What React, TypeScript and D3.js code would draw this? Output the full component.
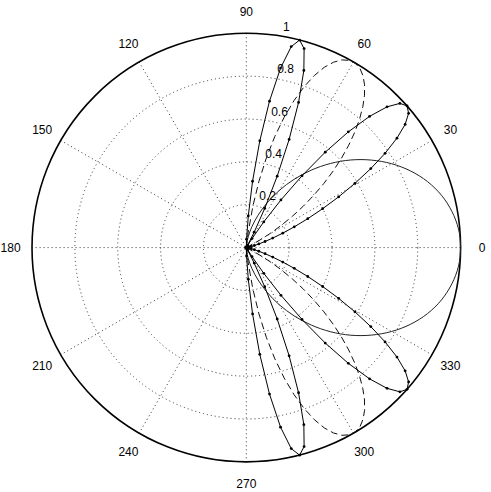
import React, { useEffect, useRef } from 'react';
import * as d3 from 'd3';

// Beam patterns: angle in degrees (0 = right, counter-clockwise),
// magnitude 0..1. Every pattern is symmetric about the 0-180 axis, so the lower
// lobes are the same samples at negative angles.
const beam75Angles = [59.4, 61.2, 63, 64.8, 66.6, 68.4, 70.2, 72, 73.8, 75.6, 77.4, 79.2, 81, 82.8, 84.6, 86.4, 88.2, 90];
const beam75Values = [0, 0.013, 0.081, 0.202, 0.363, 0.543, 0.72, 0.869, 0.967, 1.0, 0.961, 0.853, 0.692, 0.502, 0.311, 0.148, 0.039, 0];

const beam60Angles = [25.2, 27, 28.8, 30.6, 32.4, 34.2, 36, 37.8, 39.6, 41.4, 43.2, 45, 46.8, 48.6, 50.4, 52.2, 54, 55.8, 57.6, 59.4, 61.2, 63, 64.8, 66.6, 68.4, 70.2, 72, 73.8, 75.6, 77.4, 79.2, 81, 82.8, 84.6];
const beam60Values = [0, 0.007, 0.066, 0.127, 0.192, 0.259, 0.329, 0.399, 0.47, 0.54, 0.609, 0.676, 0.74, 0.799, 0.853, 0.9, 0.939, 0.969, 0.99, 0.999, 0.997, 0.983, 0.956, 0.917, 0.864, 0.799, 0.722, 0.634, 0.536, 0.429, 0.315, 0.195, 0.072, 0];

const beam41Angles = [0, 1.8, 3.6, 5.4, 7.2, 9, 10.8, 12.6, 14.4, 16.2, 18, 19.8, 21.6, 23.4, 25.2, 27, 28.8, 30.6, 32.4, 34.2, 36, 37.8, 39.6, 41.4, 43.2, 45, 46.8, 48.6, 50.4, 52.2, 54, 55.8, 57.6, 59.4, 61.2];
const beam41Values = [0, 0, 0, 0.001, 0.002, 0.006, 0.012, 0.023, 0.039, 0.061, 0.092, 0.131, 0.183, 0.244, 0.317, 0.4, 0.492, 0.589, 0.688, 0.783, 0.869, 0.938, 0.983, 1.0, 0.983, 0.929, 0.84, 0.72, 0.578, 0.424, 0.275, 0.145, 0.05, 0.003, 0];

const elementAngles = [0, 5, 10, 15, 20, 25, 30, 35, 40, 45, 50, 55, 60, 65, 70, 75, 80, 85, 90];
const elementValues = [1, 0.994, 0.974, 0.943, 0.9, 0.846, 0.783, 0.712, 0.636, 0.555, 0.472, 0.389, 0.308, 0.231, 0.161, 0.101, 0.051, 0.016, 0];

const angleTicks = [0, 30, 60, 90, 120, 150, 180, 210, 240, 270, 300, 330];
const spokeAngles = [0, 30, 60, 90, 120, 150];
const radiusTicks = [0.2, 0.4, 0.6, 0.8, 1];

const PolarPattern = () => {
  const svgRef = useRef(null);

  useEffect(() => {
    const svg = d3.select(svgRef.current);
    svg.selectAll('*').remove();

    const cx = 246.3;
    const cy = 247.6;
    const R = 214.3;
    const font = "'Liberation Sans', Arial, Helvetica, sans-serif";

    const r = d3.scaleLinear().domain([0, 1]).range([0, R]);
    const rad = d => (d * Math.PI) / 180;
    const px = (a, v) => r(v) * Math.cos(rad(a));
    const py = (a, v) => -r(v) * Math.sin(rad(a));

    svg.append('rect').attr('width', 491).attr('height', 492).attr('fill', '#fff');
    const g = svg.append('g').attr('transform', `translate(${cx},${cy})`);

    // dotted grid rings
    g.append('g')
      .selectAll('circle')
      .data(radiusTicks.filter(t => t < 1))
      .join('circle')
      .attr('r', d => r(d))
      .attr('fill', 'none')
      .attr('stroke', '#333')
      .attr('stroke-width', 1)
      .attr('stroke-dasharray', '1,3');

    // dotted spokes
    g.append('g')
      .selectAll('line')
      .data(spokeAngles)
      .join('line')
      .attr('x1', d => px(d, 1))
      .attr('y1', d => py(d, 1))
      .attr('x2', d => px(d + 180, 1))
      .attr('y2', d => py(d + 180, 1))
      .attr('stroke', '#333')
      .attr('stroke-width', 1)
      .attr('stroke-dasharray', '1,3');

    // outer boundary
    g.append('circle')
      .attr('r', r(1))
      .attr('fill', 'none')
      .attr('stroke', '#000')
      .attr('stroke-width', 1.6);

    // angle labels
    g.append('g')
      .selectAll('text')
      .data(angleTicks)
      .join('text')
      .attr('x', d => px(d, 1.1))
      .attr('y', d => py(d, 1.1))
      .attr('dy', '0.35em')
      .attr('text-anchor', 'middle')
      .style('font-family', font)
      .style('font-size', '12px')
      .attr('fill', '#000')
      .text(d => d);

    // radius labels along 82 degrees
    g.append('g')
      .selectAll('text')
      .data(radiusTicks)
      .join('text')
      .attr('x', d => px(82, d + 0.01) + 6.7)
      .attr('y', d => py(82, d + 0.01) - 2.6)
      .attr('text-anchor', 'start')
      .style('font-family', font)
      .style('font-size', '12px')
      .attr('fill', '#000')
      .text(d => `${d}`);

    const radial = d3.lineRadial()
      .angle(d => rad(90 - d[0]))
      .radius(d => r(d[1]));

    const zip = (angles, values) => angles.map((a, i) => [a, values[i]]);
    const mirror = pts => pts.map(([a, v]) => [-a, v]);

    // element pattern, smooth solid curve
    const element = zip(elementAngles, elementValues);
    const elementFull = [...mirror(element).reverse(), ...element.slice(1)];
    g.append('path')
      .attr('d', radial.curve(d3.curveCatmullRom)(elementFull))
      .attr('fill', 'none')
      .attr('stroke', '#222')
      .attr('stroke-width', 1);
    radial.curve(d3.curveLinear);

    // dashed beam
    const b60 = zip(beam60Angles, beam60Values);
    [b60, mirror(b60)].forEach(pts => {
      g.append('path')
        .attr('d', radial(pts))
        .attr('fill', 'none')
        .attr('stroke', '#111')
        .attr('stroke-width', 1)
        .attr('stroke-dasharray', '7,4');
    });

    // solid beams with dot markers
    const dotted = [zip(beam75Angles, beam75Values), zip(beam41Angles, beam41Values)];
    dotted.forEach(series => {
      [series, mirror(series)].forEach(pts => {
        g.append('path')
          .attr('d', radial(pts))
          .attr('fill', 'none')
          .attr('stroke', '#000')
          .attr('stroke-width', 1);
        g.append('g')
          .selectAll('circle')
          .data(pts)
          .join('circle')
          .attr('cx', d => px(d[0], d[1]))
          .attr('cy', d => py(d[0], d[1]))
          .attr('r', 1.4)
          .attr('fill', '#000');
      });
    });
  }, []);

  return (
    <svg
      ref={svgRef}
      width="491"
      height="492"
      style={{ position: 'absolute', left: 0, top: 0 }}
    ></svg>
  );
};

export default function App() {
  return <PolarPattern />;
}
